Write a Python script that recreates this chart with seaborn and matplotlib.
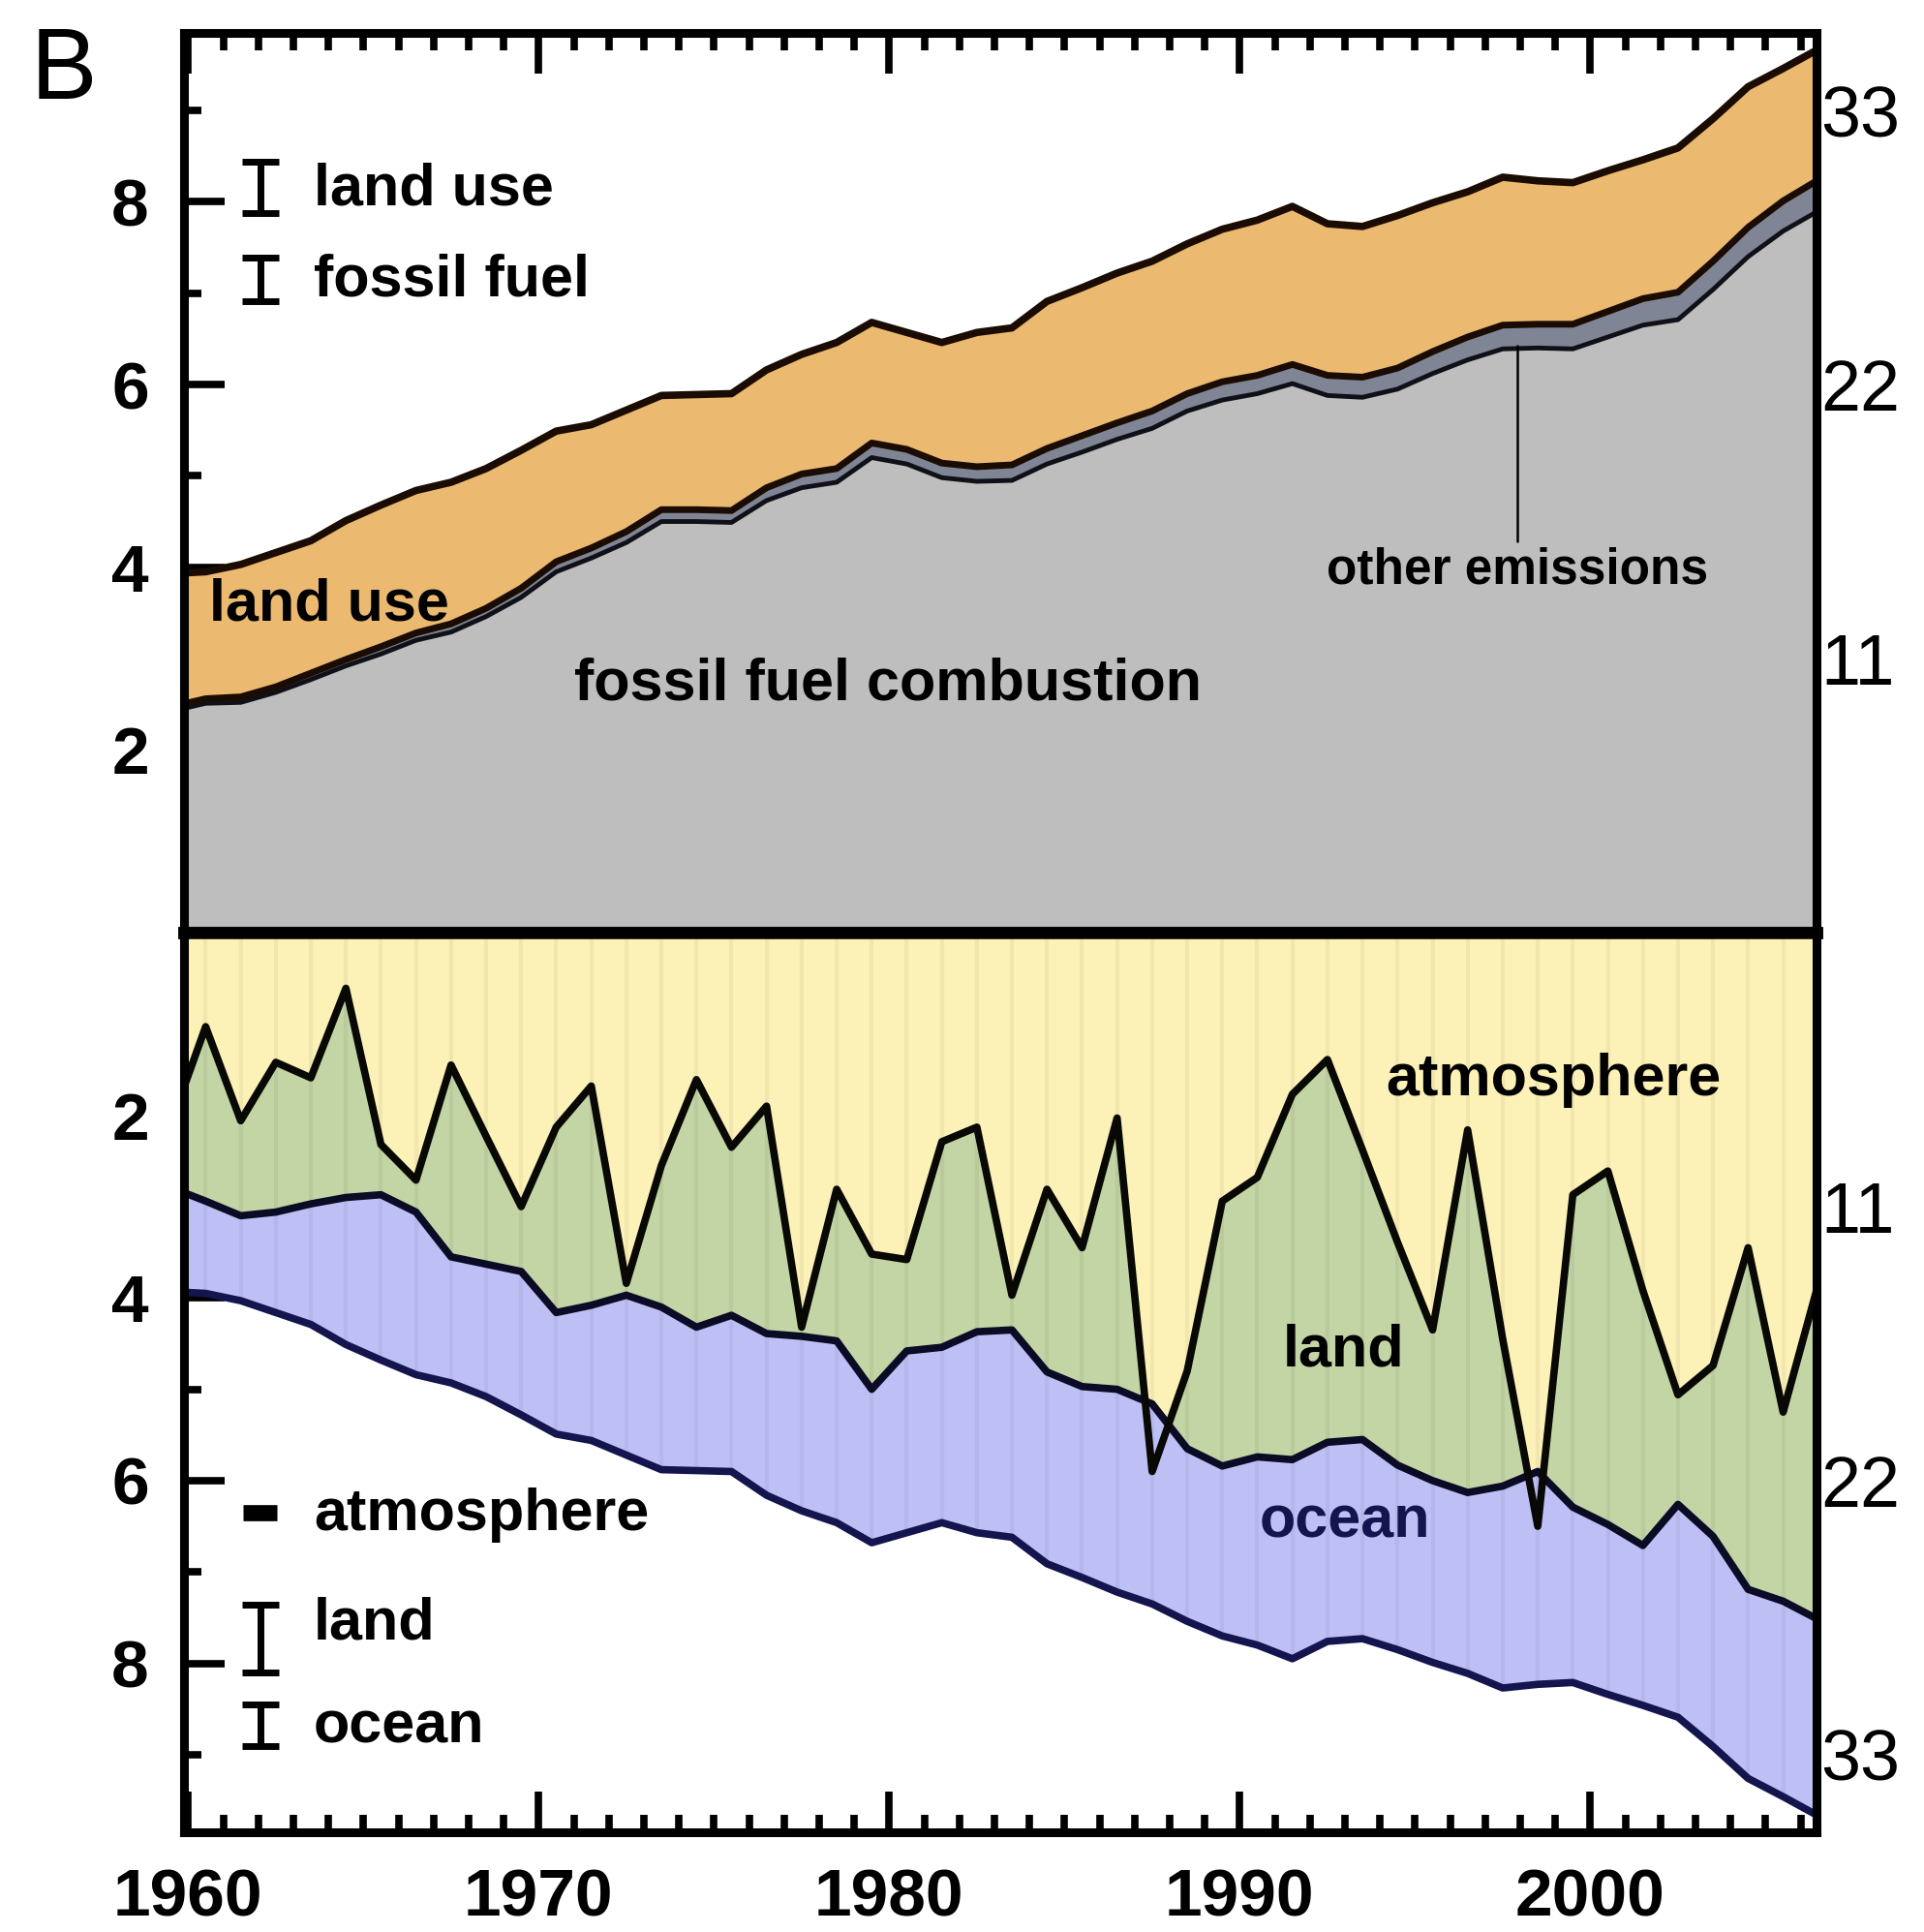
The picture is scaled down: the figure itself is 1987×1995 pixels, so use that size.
import matplotlib
matplotlib.use("Agg")
import numpy as np
import pandas as pd
import matplotlib.pyplot as plt
from matplotlib.ticker import FixedLocator, MultipleLocator
import seaborn as sns

# ---- data (GtC per year) ----
years = list(range(1959, 2007))

fossil_combustion = [2.42, 2.51, 2.52, 2.63, 2.77, 2.92, 3.05, 3.20, 3.29, 3.46,
                     3.67, 3.95, 4.10, 4.27, 4.50, 4.50, 4.49, 4.73, 4.87, 4.93,
                     5.20, 5.13, 4.98, 4.94, 4.95, 5.13, 5.26, 5.40, 5.52, 5.71,
                     5.83, 5.90, 6.01, 5.88, 5.86, 5.95, 6.12, 6.27, 6.39, 6.40,
                     6.39, 6.52, 6.65, 6.71, 7.04, 7.40, 7.68, 7.90]
other_emissions = [0.05, 0.05, 0.06, 0.06, 0.07, 0.07, 0.08, 0.08, 0.09, 0.09,
                   0.10, 0.11, 0.11, 0.12, 0.13, 0.13, 0.13, 0.14, 0.15, 0.15,
                   0.16, 0.16, 0.16, 0.16, 0.17, 0.17, 0.18, 0.18, 0.19, 0.19,
                   0.20, 0.20, 0.21, 0.22, 0.22, 0.23, 0.24, 0.25, 0.26, 0.26,
                   0.27, 0.28, 0.29, 0.30, 0.31, 0.32, 0.33, 0.34]
land_use = [1.46, 1.39, 1.45, 1.47, 1.45, 1.52, 1.55, 1.56, 1.55, 1.53,
            1.51, 1.43, 1.35, 1.33, 1.25, 1.26, 1.28, 1.29, 1.31, 1.38,
            1.32, 1.28, 1.32, 1.47, 1.50, 1.61, 1.62, 1.64, 1.64, 1.64,
            1.67, 1.70, 1.73, 1.66, 1.65, 1.67, 1.63, 1.59, 1.62, 1.57,
            1.55, 1.54, 1.52, 1.58, 1.56, 1.54, 1.45, 1.43]

atmosphere = [2.10, 1.03, 2.06, 1.42, 1.59, 0.61, 2.32, 2.71, 1.45, 2.23,
              3.00, 2.13, 1.68, 3.84, 2.55, 1.61, 2.35, 1.90, 4.32, 2.81,
              3.52, 3.58, 2.29, 2.13, 3.97, 2.81, 3.45, 2.03, 5.90, 4.80,
              2.94, 2.68, 1.77, 1.39, 2.38, 3.39, 4.35, 2.16, 4.45, 6.50,
              2.87, 2.61, 3.92, 5.06, 4.74, 3.45, 5.25, 3.85]
land_sink = [0.69, 1.91, 1.04, 1.64, 1.38, 2.29, 0.55, 0.35, 2.10, 1.40,
             0.71, 2.03, 2.40, 0.13, 1.55, 2.71, 1.84, 2.49, 0.10, 1.66,
             1.48, 1.00, 2.25, 2.24, 0.38, 2.00, 1.52, 2.97, -0.74, 0.85,
             2.90, 3.06, 4.00, 4.19, 3.17, 2.44, 1.65, 3.97, 1.61, -0.60,
             3.42, 3.87, 2.79, 1.20, 1.87, 3.74, 2.07, 3.67]
ocean_sink = [1.14, 1.01, 0.93, 1.10, 1.32, 1.61, 1.81, 1.78, 1.38, 1.45,
              1.57, 1.33, 1.48, 1.75, 1.78, 1.57, 1.71, 1.77, 1.91, 1.99,
              1.68, 1.99, 1.92, 2.20, 2.27, 2.10, 2.09, 2.22, 2.19, 1.89,
              1.86, 2.06, 2.18, 2.18, 2.18, 2.02, 1.99, 1.98, 2.21, 2.33,
              1.92, 1.86, 1.75, 2.33, 2.30, 2.07, 2.14, 2.15]

decade_ticks = [1960, 1970, 1980, 1990, 2000]
left_ticks = [2, 4, 6, 8]
co2_ticks = [3, 6, 9]
co2_labels = ["11", "22", "33"]

# ---- styling ----
sns.set_theme(style="white")
plt.rcParams["font.family"] = ["Liberation Sans", "DejaVu Sans"]
plt.rcParams["font.weight"] = "bold"
for key in ("text.color", "axes.labelcolor", "xtick.color", "ytick.color",
            "axes.edgecolor"):
    plt.rcParams[key] = "black"

GREY = "#bebebe"
OTHER = "#7f8594"
ORANGE = "#ebb96f"
YELLOW = "#fcf1b6"
GREEN = "#c3d4a5"
BLUE = "#bec0f5"
NAVY = "#14144e"
LW = 5.5

df = pd.DataFrame({
    "year": years,
    "fossil": fossil_combustion,
    "other": other_emissions,
    "landuse": land_use,
    "atm": atmosphere,
    "land": land_sink,
    "ocean": ocean_sink,
})
df["x"] = df["year"] + 0.5          # annual values sit at mid-year
df["fossil_top"] = df["fossil"] + df["other"]
df["emis_total"] = df["fossil_top"] + df["landuse"]
df["land_top"] = df["atm"] + df["land"]
df["sink_total"] = df["land_top"] + df["ocean"]

fig = plt.figure(figsize=(19.87, 19.95), dpi=100)
ax_top = fig.add_axes([0.0956, 0.5173, 0.8485, 0.4657])
ax_bot = fig.add_axes([0.0956, 0.0516, 0.8485, 0.4657], sharex=ax_top)

x = df["x"].to_numpy()

# ---- emissions panel ----
ax_top.fill_between(x, 0, df["fossil"], color=GREY, lw=0)
ax_top.fill_between(x, df["fossil"], df["fossil_top"], color=OTHER, lw=0)
ax_top.fill_between(x, df["fossil_top"], df["emis_total"], color=ORANGE, lw=0)
sns.lineplot(data=df, x="x", y="fossil", ax=ax_top, color="#101018", lw=3.5,
             sort=False, estimator=None)
sns.lineplot(data=df, x="x", y="fossil_top", ax=ax_top, color="#1a0c02", lw=LW - 0.5,
             sort=False, estimator=None)
sns.lineplot(data=df, x="x", y="emis_total", ax=ax_top, color="#1a0c02", lw=LW,
             sort=False, estimator=None)

# ---- sinks panel ----
ax_bot.fill_between(x, 0, df["atm"], color=YELLOW, lw=0)
ax_bot.fill_between(x, df["atm"], df["land_top"], color=GREEN, lw=0)
ax_bot.fill_between(x, df["land_top"], df["sink_total"], color=BLUE, lw=0)
ax_bot.vlines(x, 0, df["sink_total"], color="#000000", alpha=0.045, lw=3)
sns.lineplot(data=df, x="x", y="sink_total", ax=ax_bot, color=NAVY, lw=LW,
             sort=False, estimator=None)
sns.lineplot(data=df, x="x", y="land_top", ax=ax_bot, color="#0b0b26", lw=LW,
             sort=False, estimator=None)
sns.lineplot(data=df, x="x", y="atm", ax=ax_bot, color="#080805", lw=LW,
             sort=False, estimator=None)

ax_top.set_xlim(1959.88, 2006.45)
ax_top.set_ylim(0, 9.85)
ax_bot.set_ylim(9.85, 0)

for ax in (ax_top, ax_bot):
    ax.set_xlabel("")
    ax.set_ylabel("")
    ax.grid(False)
    for sp in ax.spines.values():
        sp.set_visible(True)
        sp.set_color("black")
        sp.set_linewidth(6.5)
    ax.xaxis.set_major_locator(FixedLocator(decade_ticks))
    ax.xaxis.set_minor_locator(MultipleLocator(1))
    ax.yaxis.set_major_locator(FixedLocator(left_ticks))
    ax.yaxis.set_minor_locator(FixedLocator([1, 3, 5, 7, 9]))
    ax.tick_params(which="both", direction="in", left=True, right=True,
                   width=5.5, color="black")
    ax.tick_params(which="major", length=30)
    ax.tick_params(which="minor", length=13)
    ax.tick_params(axis="y", labelsize=50, pad=26, labelright=False,
                   labelcolor="black")
    ax.set_yticks(left_ticks, [str(v) for v in left_ticks])

ax_top.spines["bottom"].set_linewidth(9)
ax_bot.spines["top"].set_linewidth(9)

ax_top.tick_params(axis="x", which="both", top=True, bottom=False,
                   labeltop=False, labelbottom=False)
ax_bot.tick_params(axis="x", which="both", top=False, bottom=True,
                   labelbottom=True, labelsize=50, pad=26, labelcolor="black")
ax_bot.set_xticks(decade_ticks, [str(v) for v in decade_ticks])

# right-hand scale in GtCO2
for ax, lims in ((ax_top, (0, 9.85)), (ax_bot, (9.85, 0))):
    tw = ax.twinx()
    tw.set_ylim(*lims)
    tw.set_yticks(co2_ticks, co2_labels, fontweight="normal", fontsize=53,
                  color="black")
    tw.tick_params(axis="y", length=0, pad=3)
    tw.grid(False)
    for sp in tw.spines.values():
        sp.set_visible(False)

# ---- annotations: emissions ----
lab = dict(fontsize=44, fontweight="bold", color="black")
ax_top.text(1960.6, 3.58, "land use", ha="left", va="center", **lab)
ax_top.text(1979.97, 2.71, "fossil fuel combustion", ha="center", va="center", **lab)
ax_top.text(1997.93, 3.96, "other emissions", ha="center", va="center",
            fontsize=37, fontweight="bold", color="black")
ax_top.plot([1997.93, 1997.93], [4.28, 6.42], color="black", lw=1.8)

eb = dict(fmt="none", ecolor="black", elinewidth=5, capsize=14, capthick=5)
ax_top.errorbar([1962.07], [8.16], yerr=[0.28], **eb)
ax_top.errorbar([1962.07], [7.15], yerr=[0.24], **eb)
ax_top.text(1963.58, 8.13, "land use", ha="left", va="center", **lab)
ax_top.text(1963.58, 7.13, "fossil fuel", ha="left", va="center", **lab)

# ---- annotations: sinks ----
ax_bot.text(1998.95, 1.62, "atmosphere", ha="center", va="center", **lab)
ax_bot.text(1992.95, 4.58, "land", ha="center", va="center", **lab)
ax_bot.text(1993.0, 6.46, "ocean", ha="center", va="center", color=NAVY,
            fontsize=44, fontweight="bold")

ax_bot.plot([1961.57, 1962.53], [6.35, 6.35], color="black", lw=12,
            solid_capstyle="butt")
ax_bot.errorbar([1962.07], [7.73], yerr=[0.37], **eb)
ax_bot.errorbar([1962.07], [8.68], yerr=[0.23], **eb)
ax_bot.text(1963.58, 6.38, "atmosphere", ha="left", va="center", **lab)
ax_bot.text(1963.58, 7.57, "land", ha="left", va="center", **lab)
ax_bot.text(1963.58, 8.70, "ocean", ha="left", va="center", **lab)

fig.text(32 / 1987, 1 - 102 / 1995, "B", fontsize=74, fontweight="normal",
         ha="left", va="baseline", color="black")

fig.savefig("out.png", dpi=100)
